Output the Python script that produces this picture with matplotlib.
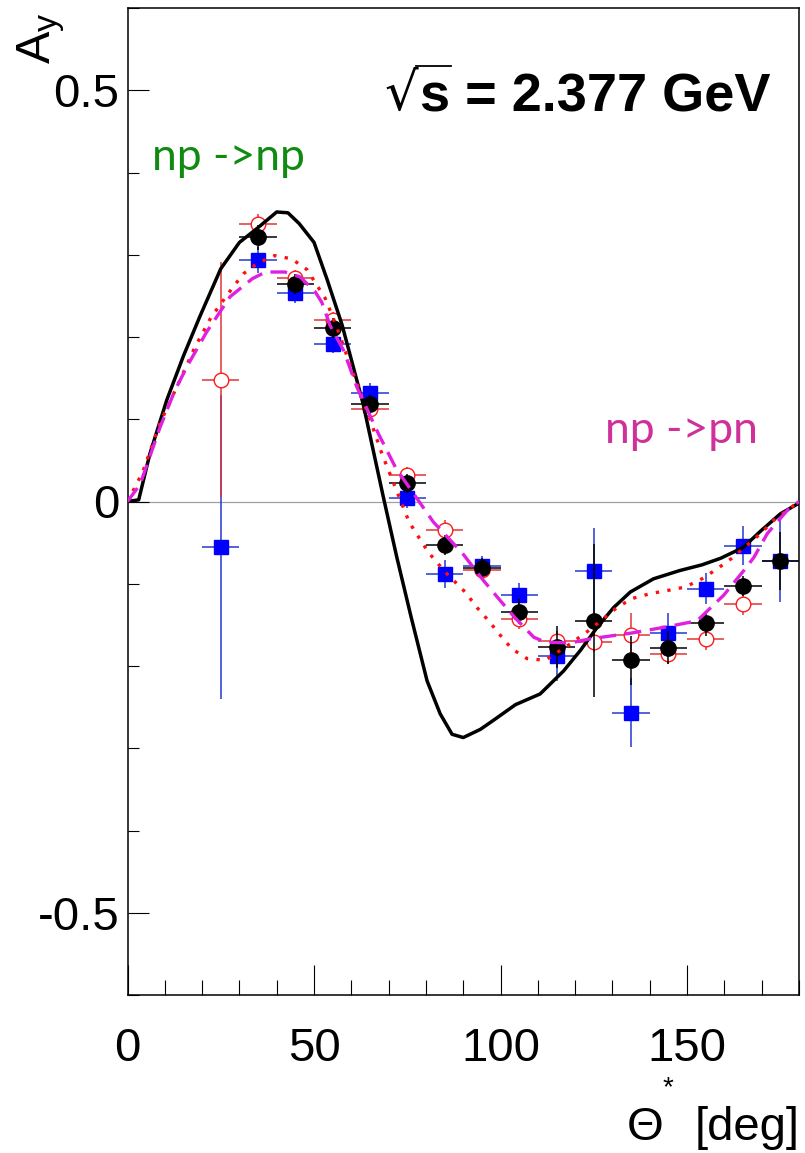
import matplotlib
matplotlib.use("Agg")
import matplotlib.pyplot as plt
from matplotlib.lines import Line2D
from matplotlib.ticker import MultipleLocator, FixedLocator

plt.rcParams['font.family'] = ['Liberation Sans', 'DejaVu Sans']
plt.rcParams['mathtext.fontset'] = 'custom'
plt.rcParams['mathtext.rm'] = 'Liberation Sans'
plt.rcParams['mathtext.bf'] = 'Liberation Sans:bold'
plt.rcParams['mathtext.it'] = 'Liberation Sans:italic'

# ---- measured analysing powers -------------------------------------------
theta_blue = [25, 35, 45, 55, 65, 75, 85, 95, 105, 115, 125, 135, 145, 155, 165, 175]
ay_blue = [-0.0555, 0.294, 0.253, 0.191, 0.132, 0.004, -0.088, -0.079, -0.114,
           -0.188, -0.084, -0.257, -0.160, -0.106, -0.0535, -0.072]
err_blue = [0.185, 0.016, 0.012, 0.010, 0.012, 0.012, 0.017, 0.013, 0.015,
            0.030, 0.052, 0.042, 0.024, 0.019, 0.024, 0.050]

theta_red = [25, 35, 45, 55, 65, 75, 85, 95, 105, 115, 125, 135, 145, 155, 165]
ay_red = [0.148, 0.337, 0.272, 0.221, 0.112, 0.032, -0.035, -0.083, -0.143,
          -0.169, -0.171, -0.162, -0.185, -0.167, -0.125]
err_red = [0.143, 0.012, 0.010, 0.010, 0.010, 0.010, 0.012, 0.010, 0.012,
           0.012, 0.012, 0.026, 0.013, 0.013, 0.013]

theta_black = [35, 45, 55, 65, 75, 85, 95, 105, 115, 125, 135, 145, 155, 165, 175]
ay_black = [0.321, 0.264, 0.211, 0.118, 0.022, -0.053, -0.081, -0.134, -0.177,
            -0.145, -0.193, -0.178, -0.148, -0.103, -0.072]
err_black = [0.015, 0.012, 0.012, 0.012, 0.012, 0.012, 0.012, 0.015, 0.026,
             0.093, 0.030, 0.020, 0.015, 0.012, 0.035]

theta_binhalf = 5.0

# ---- model curves -----------------------------------------------------------
solid_x = [0, 3, 6, 10.5, 15, 19.4, 25, 30, 35, 40, 43, 46, 50, 53.5, 57.5, 63.2,
           68.6, 72.2, 76, 80.3, 83.8, 87, 90, 94.6, 98.1, 104, 110.6, 116.9,
           121.4, 125.9, 130.3, 134.8, 141, 148, 154, 159, 165, 169.7, 175, 180]
solid_y = [0, 0.002, 0.058, 0.123, 0.177, 0.225, 0.283, 0.315, 0.333, 0.352,
           0.351, 0.338, 0.315, 0.270, 0.215, 0.118, 0.005, -0.068, -0.140,
           -0.218, -0.258, -0.283, -0.287, -0.277, -0.266, -0.247, -0.234,
           -0.206, -0.181, -0.153, -0.129, -0.110, -0.094, -0.084, -0.077,
           -0.069, -0.056, -0.036, -0.015, -0.002]

dotted_x = [0, 4, 8.7, 14.1, 18, 22.4, 28, 31.1, 35, 39.5, 44, 48.1, 53, 56.1,
            60, 65, 68.2, 71.8, 75.5, 78, 80.7, 85, 90.5, 93.7, 96.8, 100, 103,
            107.1, 112, 118.7, 123.6, 131.2, 135.2, 140.2, 145, 149.5, 154,
            158, 162, 169.7, 173.2, 180]
dotted_y = [0, 0.035, 0.095, 0.148, 0.187, 0.224, 0.259, 0.277, 0.290, 0.299,
            0.295, 0.282, 0.247, 0.212, 0.162, 0.100, 0.058, 0.017, -0.025,
            -0.043, -0.062, -0.085, -0.110, -0.129, -0.145, -0.163, -0.179,
            -0.191, -0.193, -0.173, -0.157, -0.129, -0.118, -0.112, -0.108,
            -0.104, -0.094, -0.082, -0.069, -0.039, -0.023, 0]

dashed_x = [0, 3.4, 8.7, 12.7, 16.3, 21.2, 27.5, 33.5, 37, 42.2, 46.3, 50.3,
            52.1, 54.3, 57.9, 61.5, 67.3, 72, 82, 89.8, 95.4, 100.2, 104,
            108.9, 112, 118.7, 124, 135, 145, 152.7, 159.8, 165.2, 167.9,
            171.5, 176.8, 180]
dashed_y = [0, 0.021, 0.090, 0.135, 0.167, 0.206, 0.249, 0.271, 0.279, 0.279,
            0.273, 0.255, 0.242, 0.214, 0.184, 0.139, 0.082, 0.040, -0.025,
            -0.063, -0.096, -0.122, -0.142, -0.165, -0.171, -0.172, -0.167,
            -0.160, -0.152, -0.145, -0.114, -0.084, -0.068, -0.039, -0.011, 0]

W, H = 805, 1153
fig = plt.figure(figsize=(W / 100, H / 100), dpi=100)
ax = fig.add_axes([127.5 / W, 1 - 995 / H, (799 - 127.5) / W, (995 - 8) / H])
ax.set_xlim(0, 180)
ax.set_ylim(-0.6, 0.6)

ax.axhline(0, color='#a0a0a0', lw=0.9, zorder=1)

# data points
ax.errorbar(theta_blue, ay_blue, xerr=theta_binhalf, yerr=err_blue, fmt='s',
            ms=10.5, mfc='#0000ff', mec='#0000ff', ecolor='#2538d0',
            elinewidth=1.1, capsize=0, zorder=3)
ax.errorbar(theta_red, ay_red, xerr=theta_binhalf, yerr=err_red, fmt='o',
            ms=10.5, mfc='white', mec='#ff1a1a', mew=1.0, ecolor='#e03535',
            elinewidth=1.1, capsize=0, zorder=4)
ax.errorbar(theta_black, ay_black, xerr=theta_binhalf, yerr=err_black, fmt='o',
            ms=11, mfc='black', mec='black', ecolor='black',
            elinewidth=1.1, capsize=0, zorder=5)

# model curves
ax.plot(solid_x, solid_y, color='black', lw=2.5, zorder=6)
ax.plot(dotted_x, dotted_y, color='#ff1010', lw=2.4, ls=(0, (1, 2.5)), zorder=6)
ax.plot(dashed_x, dashed_y, color='#e020e0', lw=2.4, ls=(0, (5, 2.6)), zorder=6)

# axes styling
for s in ax.spines.values():
    s.set_linewidth(1.1)
ax.xaxis.set_major_locator(FixedLocator([0, 50, 100, 150]))
ax.xaxis.set_minor_locator(MultipleLocator(10))
ax.yaxis.set_major_locator(FixedLocator([-0.5, 0, 0.5]))
ax.yaxis.set_minor_locator(MultipleLocator(0.1))
ax.tick_params(axis='both', which='both', direction='in', top=False, right=False,
               width=0.8, labelsize=34)
ax.tick_params(axis='x', which='major', length=21.6, pad=23)
ax.tick_params(axis='x', which='minor', length=10.8)
ax.tick_params(axis='y', which='major', length=15, pad=5.8)
ax.tick_params(axis='y', which='minor', length=8)
ax.set_xticklabels(['0', '50', '100', '150'])
ax.set_yticklabels(['-0.5', '0', '0.5'])

# axis titles
fig.text(41 / W, 1 - 38 / H, r'$\mathrm{A}_{\mathrm{y}}$', rotation=90,
         ha='center', va='center', fontsize=35)
fig.text(800 / W, 1 - 1140 / H, '[deg]', ha='right', va='baseline', fontsize=34)
fig.text(645 / W, 1 - 1140 / H, 'Θ', ha='center', va='baseline', fontsize=34)
fig.text(668 / W, 1 - 1088 / H, '*', ha='center', va='center', fontsize=20)

# energy label: thin radical sign, bold "s = 2.377 GeV", bar over the s
base_y = 1 - 112 / H
energy = fig.text(770 / W, base_y, 's = 2.377 GeV', ha='right', va='baseline',
                  fontsize=39, fontweight='bold')
fig.canvas.draw()
rend = fig.canvas.get_renderer()
eb = energy.get_window_extent(rend)
radical = fig.text((eb.x0 - 1) / W, base_y + 2 / H, '√', ha='right',
                   va='baseline', fontsize=38, family=['DejaVu Sans'])
rb = radical.get_window_extent(rend)
probe = fig.text(eb.x0 / W, base_y, 's', ha='left', va='baseline', fontsize=39,
                 fontweight='bold')
sb = probe.get_window_extent(rend)
probe.remove()
bar_y = 1 - 66 / H
fig.add_artist(Line2D([(rb.x1 - 3) / W, (sb.x1 + 1) / W], [bar_y, bar_y],
                      color='black', lw=1.3, transform=fig.transFigure))

# reaction labels
fig.text(152 / W, 1 - 170 / H, 'np ->np', color='#108a10', fontsize=32,
         family=['Lato', 'DejaVu Sans'], va='baseline', ha='left')
fig.text(605 / W, 1 - 443 / H, 'np ->pn', color='#d0309a', fontsize=32,
         family=['Lato', 'DejaVu Sans'], va='baseline', ha='left')

fig.savefig('out.png', dpi=100)
